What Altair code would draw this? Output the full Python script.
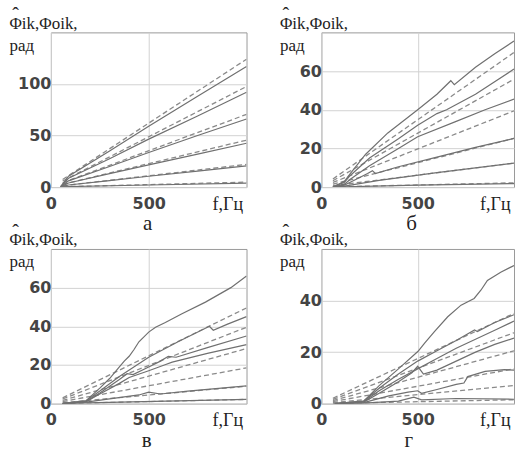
import altair as alt
import pandas as pd

# axis texts
Y_TITLE = ["Φik,Φoik,", "рад"]
Y_TITLE_HAT = "ˆ"  # estimate mark over the first Φ
X_TITLE = "f,Гц"
F_TICKS = [0, 500]
F_DOMAIN = [0, 1000]

# dashed (model) phases are straight lines from DASH_F[0] to DASH_F[1]
DASH_F = [60, 1000]

# ---- panel а ----
A_SOLID_F = [
    [50, 90, 300, 500, 750, 1000],
    [50, 90, 300, 500, 750, 1000],
    [50, 90, 300, 500, 750, 1000],
    [50, 90, 300, 500, 750, 1000],
    [50, 90, 300, 500, 750, 1000],
    [50, 90, 500, 1000],
]
A_SOLID_V = [
    [0.5, 10.5, 35, 59, 88, 117],
    [0.4, 8.5, 27.5, 46.5, 69, 92],
    [0.3, 6, 20, 33.5, 50, 66],
    [0.2, 4, 13, 21.5, 32, 42.5],
    [0.1, 2, 6.3, 10.5, 15.5, 20.5],
    [0, 0.5, 2, 3.8],
]
A_DASH_LO = [7.4, 5.9, 4.2, 2.7, 1.3, 0.3]
A_DASH_HI = [124, 97.5, 70.5, 45.5, 22, 4.8]

# ---- panel б ----
B_SOLID_F = [
    [60, 120, 150, 230, 345, 500, 600, 672, 690, 800, 900, 1000],
    [60, 120, 150, 250, 400, 500, 600, 650, 800, 1000],
    [60, 120, 150, 250, 400, 500, 700, 850, 1000],
    [60, 120, 150, 240, 265, 280, 400, 600, 800, 1000],
    [60, 120, 300, 600, 1000],
    [60, 500, 1000],
]
B_SOLID_V = [
    [0, 3, 7, 17, 28, 40, 48, 55, 53, 62, 69, 75.5],
    [0, 2.5, 6, 15, 25, 32, 38, 40, 48, 61],
    [0, 1.5, 4, 11, 20, 26, 34, 40, 45.5],
    [0, 1, 2.5, 7, 8.5, 7, 10.5, 15.5, 20.5, 25.2],
    [0, 0.5, 3.5, 7.5, 12.4],
    [0, 1, 1.8],
]
B_DASH_LO = [4.2, 3.3, 2.4, 1.5, 0.7, 0.1]
B_DASH_HI = [69.6, 55.8, 39.4, 25.2, 12.4, 2.2]

# ---- panel в ----
C_SOLID_F = [
    [60, 180, 250, 300, 350, 375, 400, 425, 450, 500, 535, 585, 670, 790, 920, 1000],
    [60, 180, 250, 350, 500, 650, 790, 810, 830, 900, 1000],
    [60, 180, 250, 350, 390, 420, 500, 560, 600, 640, 800, 1000],
    [60, 180, 250, 350, 400, 500, 580, 620, 800, 1000],
    [60, 180, 300, 450, 500, 560, 700, 1000],
    [60, 180, 1000],
]
C_SOLID_V = [
    [0, 1.5, 8, 13, 19, 22, 24.5, 28, 32, 37, 39.5, 42, 46.5, 52.5, 60, 66],
    [0, 1.5, 6.5, 14, 24, 32, 39, 40, 38, 41, 45],
    [0, 1.2, 5.5, 12.5, 15.5, 15, 19, 22, 24.5, 24, 29, 35],
    [0, 1, 5, 10.5, 13.5, 17, 20, 21.5, 26, 30.5],
    [0, 0.8, 2.5, 4.5, 6, 5, 6.5, 9.2],
    [0, 0.4, 2.2],
]
C_DASH_LO = [3, 2.4, 1.7, 1.1, 0.5, 0.1]
C_DASH_HI = [49.5, 39.5, 28.5, 18.5, 9, 2.2]

# ---- panel г ----
D_SOLID_F = [
    [70, 220, 300, 400, 502, 536, 588, 656, 725, 793, 828, 862, 931, 1000],
    [70, 220, 300, 400, 500, 600, 700, 795, 810, 900, 1000],
    [70, 220, 300, 400, 500, 600, 700, 800, 900, 1000],
    [70, 220, 300, 400, 470, 500, 530, 600, 700, 800, 900, 1000],
    [70, 220, 350, 450, 500, 520, 600, 700, 740, 760, 850, 950, 1000],
    [70, 220, 400, 480, 520, 700, 1000],
]
D_SOLID_V = [
    [0, 1, 7, 13.5, 20.3, 23.5, 28, 33.7, 38.2, 40.8, 44, 47.8, 51, 53.6],
    [0, 1, 6, 11.5, 16.5, 20.5, 24.5, 28.6, 28, 31.5, 34.5],
    [0, 0.8, 5, 9.5, 13.5, 17.5, 21.5, 25, 28.5, 32],
    [0, 0.6, 4, 8.5, 12, 14.5, 11.5, 13, 16.5, 20, 23, 25.4],
    [0, 0.4, 3, 4.5, 5, 4, 5.5, 7.5, 8, 10.5, 12.5, 13.2, 13],
    [0, 0.2, 1, 2.5, 1.5, 2, 1.7],
]
D_DASH_LO = [2.1, 1.65, 1.2, 0.8, 0.4, 0.1]
D_DASH_HI = [35, 27.5, 20.5, 13.5, 7, 1.5]

SERIF = "Liberation Serif"
SANS = "DejaVu Sans"
INK = "#222222"
SOLID_COLOR = "#707070"
DASH_COLOR = "#8a8a8a"
PANEL_H = 155
TITLE_X0 = -42  # left edge of the y title, relative to the plot


def panel(letter, solid_f, solid_v, dash_lo, dash_hi, ymax, yticks, width, letter_dx):
    rows = []
    for i, (fs, vs) in enumerate(zip(solid_f, solid_v)):
        for f, v in zip(fs, vs):
            rows.append({"f": f, "v": v, "line": f"s{i}"})
    solid = pd.DataFrame(rows)

    rows = []
    for i, (lo, hi) in enumerate(zip(dash_lo, dash_hi)):
        rows.append({"f": DASH_F[0], "v": lo, "line": f"d{i}"})
        rows.append({"f": DASH_F[1], "v": hi, "line": f"d{i}"})
    dashed = pd.DataFrame(rows)

    x = alt.X(
        "f:Q",
        scale=alt.Scale(domain=F_DOMAIN, nice=False),
        axis=alt.Axis(
            values=F_TICKS, title=X_TITLE, labelFlush=False, labelPadding=8,
            titleAlign="right", titleBaseline="alphabetic",
            titleX=width - 4, titleY=22, titleFontSize=18,
        ),
    )
    y = alt.Y(
        "v:Q",
        scale=alt.Scale(domain=[0, ymax], nice=False),
        axis=alt.Axis(
            values=yticks, title=Y_TITLE, labelPadding=0,
            titleAngle=0, titleAlign="left", titleBaseline="alphabetic",
            titleX=TITLE_X0, titleY=-4, titleLineHeight=22, titleFontSize=17,
        ),
    )
    dsh = alt.Chart(dashed).mark_line(
        color=DASH_COLOR, strokeWidth=1.3, strokeDash=[5, 3], clip=True
    ).encode(x=x, y=y, detail="line:N")
    sol = alt.Chart(solid).mark_line(
        color=SOLID_COLOR, strokeWidth=1.2, clip=True
    ).encode(x=x, y=y, detail="line:N")
    # circumflex over the first Φ of the y title
    hat = alt.Chart(pd.DataFrame({"t": [Y_TITLE_HAT]})).mark_text(
        font=SERIF, fontSize=20, color=INK, align="center", baseline="middle"
    ).encode(text="t:N", x=alt.value(TITLE_X0 + 6.5), y=alt.value(-16))
    return alt.layer(dsh, sol, hat).properties(
        width=width,
        height=PANEL_H,
        title=alt.TitleParams(
            letter, orient="bottom", anchor="middle", font=SERIF,
            fontSize=21, fontWeight="normal", color=INK, offset=0, dx=letter_dx,
        ),
    )


a = panel("а", A_SOLID_F, A_SOLID_V, A_DASH_LO, A_DASH_HI, 150, [0, 50, 100], 196, -1)
b = panel("б", B_SOLID_F, B_SOLID_V, B_DASH_LO, B_DASH_HI, 80, [0, 20, 40, 60], 193, -6)
c = panel("в", C_SOLID_F, C_SOLID_V, C_DASH_LO, C_DASH_HI, 80, [0, 20, 40, 60], 196, -2)
d = panel("г", D_SOLID_F, D_SOLID_V, D_DASH_LO, D_DASH_HI, 60, [0, 20, 40], 193, -9)

chart = alt.concat(
    a, b, c, d, columns=2, spacing={"row": 62, "column": 75}, bounds="flush"
).properties(
    padding={"left": 8, "top": 5, "right": 0, "bottom": 4},
    background="white",
).configure_view(
    stroke="#9a9a9a", strokeWidth=1
).configure_axis(
    grid=True, gridColor="#d2d2d2", gridWidth=1,
    domain=False, ticks=False,
    labelFont=SANS, labelFontSize=16, labelFontWeight="bold", labelColor="#444444",
    titleFont=SERIF, titleFontWeight="normal", titleColor=INK,
)

chart.save("out.html", embed_options={"renderer": "svg", "actions": False})
